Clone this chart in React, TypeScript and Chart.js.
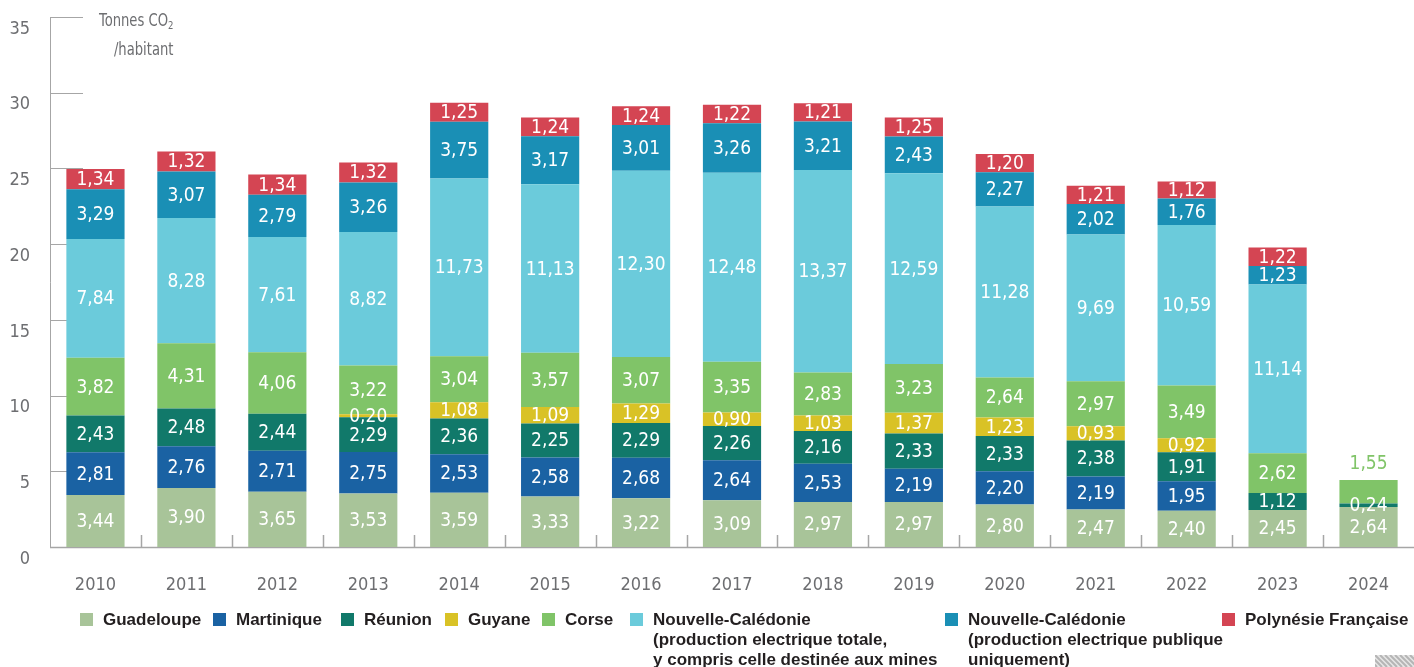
import React, { useEffect, useRef } from 'react';
import { Chart, registerables } from 'chart.js';

Chart.register(...registerables);

const years = ['2010', '2011', '2012', '2013', '2014', '2015', '2016', '2017', '2018', '2019', '2020', '2021', '2022', '2023', '2024'];
const guadeloupe = [3.44, 3.90, 3.65, 3.53, 3.59, 3.33, 3.22, 3.09, 2.97, 2.97, 2.80, 2.47, 2.40, 2.45, 2.64];
const martinique = [2.81, 2.76, 2.71, 2.75, 2.53, 2.58, 2.68, 2.64, 2.53, 2.19, 2.20, 2.19, 1.95, null, null];
const reunion = [2.43, 2.48, 2.44, 2.29, 2.36, 2.25, 2.29, 2.26, 2.16, 2.33, 2.33, 2.38, 1.91, 1.12, 0.24];
const guyane = [null, null, null, 0.20, 1.08, 1.09, 1.29, 0.90, 1.03, 1.37, 1.23, 0.93, 0.92, null, null];
const corse = [3.82, 4.31, 4.06, 3.22, 3.04, 3.57, 3.07, 3.35, 2.83, 3.23, 2.64, 2.97, 3.49, 2.62, 1.55];
const ncTotale = [7.84, 8.28, 7.61, 8.82, 11.73, 11.13, 12.30, 12.48, 13.37, 12.59, 11.28, 9.69, 10.59, 11.14, null];
const ncPublique = [3.29, 3.07, 2.79, 3.26, 3.75, 3.17, 3.01, 3.26, 3.21, 2.43, 2.27, 2.02, 1.76, 1.23, null];
const polynesie = [1.34, 1.32, 1.34, 1.32, 1.25, 1.24, 1.24, 1.22, 1.21, 1.25, 1.20, 1.21, 1.12, 1.22, null];

const seriesNames = ['Guadeloupe', 'Martinique', 'Réunion', 'Guyane', 'Corse', 'Nouvelle-Calédonie totale', 'Nouvelle-Calédonie publique', 'Polynésie Française'];
const seriesColors = ['#a8c499', '#1a62a3', '#11796a', '#d9c226', '#80c468', '#6bcbdb', '#1a8fb5', '#d44553'];
const legendLines = [
  ['Guadeloupe'],
  ['Martinique'],
  ['Réunion'],
  ['Guyane'],
  ['Corse'],
  ['Nouvelle-Calédonie', '(production electrique totale,', 'y compris celle destinée aux mines'],
  ['Nouvelle-Calédonie', '(production electrique publique', 'uniquement)'],
  ['Polynésie Française'],
];
const legendX = [80, 213, 341, 445, 542, 630, 945, 1222];

const yTicks = [0, 5, 10, 15, 20, 25, 30, 35];

const NARROW = '"Liberation Sans Narrow", "DejaVu Sans Condensed", "Arial Narrow", sans-serif';
const AXIS_GRAY = '#a6a6a6';
const TEXT_GRAY = '#6d6e71';

const fmt = (v: number) => v.toFixed(2).replace('.', ',');

const axisPlugin = {
  id: 'customAxes',
  beforeDatasetsDraw(chart: any) {
    const { ctx, chartArea } = chart;
    const x = chart.scales.x;
    const y = chart.scales.y;
    ctx.save();
    ctx.strokeStyle = AXIS_GRAY;
    ctx.lineWidth = 1;
    ctx.beginPath();
    ctx.moveTo(chartArea.left + 0.5, y.getPixelForValue(35));
    ctx.lineTo(chartArea.left + 0.5, chartArea.bottom + 0.5);
    yTicks.forEach((t) => {
      const py = Math.round(y.getPixelForValue(t)) + 0.5;
      ctx.moveTo(chartArea.left, py);
      ctx.lineTo(chartArea.left + 33, py);
    });
    ctx.stroke();
    ctx.lineWidth = 1.5;
    ctx.beginPath();
    ctx.moveTo(chartArea.left, chartArea.bottom + 0.5);
    ctx.lineTo(chartArea.right, chartArea.bottom + 0.5);
    for (let i = 1; i < years.length; i++) {
      const bx = Math.round((x.getPixelForTick(i - 1) + x.getPixelForTick(i)) / 2) + 0.5;
      ctx.moveTo(bx, chartArea.bottom);
      ctx.lineTo(bx, chartArea.bottom - 12);
    }
    ctx.stroke();
    ctx.restore();
  },
  afterDraw(chart: any) {
    const { ctx } = chart;
    ctx.save();
    ctx.beginPath();
    ctx.rect(1375, 655, 39, 12);
    ctx.clip();
    ctx.fillStyle = '#e6e6e6';
    ctx.fillRect(1375, 655, 39, 12);
    ctx.strokeStyle = '#b5b5b5';
    ctx.lineWidth = 2;
    for (let k = -20; k < 60; k += 5) {
      ctx.beginPath();
      ctx.moveTo(1375 + k, 655);
      ctx.lineTo(1375 + k + 12, 667);
      ctx.stroke();
    }
    ctx.restore();
  },
};

const labelPlugin = {
  id: 'valueLabels',
  afterDatasetsDraw(chart: any) {
    const { ctx } = chart;
    ctx.save();
    ctx.font = `19px ${NARROW}`;
    ctx.textAlign = 'center';
    ctx.textBaseline = 'middle';
    const n = chart.data.labels.length;
    for (let i = 0; i < n; i++) {
      let total = 0;
      let topDs = -1;
      chart.data.datasets.forEach((ds: any, di: number) => {
        const v = ds.data[i];
        if (v != null) {
          total += v;
          topDs = di;
        }
      });
      chart.data.datasets.forEach((ds: any, di: number) => {
        const v = ds.data[i];
        if (v == null) return;
        const el = chart.getDatasetMeta(di).data[i];
        const p = el.getProps(['x', 'y', 'base'], true);
        if (di === topDs && total < 5) {
          ctx.fillStyle = ds.backgroundColor;
          ctx.fillText(fmt(v), p.x, p.y - 16);
        } else {
          ctx.fillStyle = '#ffffff';
          ctx.fillText(fmt(v), p.x, (p.y + p.base) / 2 + 1);
        }
      });
    }
    ctx.restore();
  },
};

export default function App() {
  const canvasRef = useRef<HTMLCanvasElement | null>(null);

  useEffect(() => {
    document.body.style.margin = '0';
    const canvas = canvasRef.current;
    if (!canvas) return;
    const data = [guadeloupe, martinique, reunion, guyane, corse, ncTotale, ncPublique, polynesie];
    const chart = new Chart(canvas, {
      type: 'bar',
      data: {
        labels: years,
        datasets: data.map((d, i) => ({
          label: seriesNames[i],
          data: d as any,
          backgroundColor: seriesColors[i],
          borderWidth: 0,
          categoryPercentage: 1,
          barPercentage: 0.64,
        })),
      },
      options: {
        responsive: false,
        animation: false,
        layout: { padding: { top: 17, left: 0, right: 0, bottom: 0 } },
        plugins: {
          legend: { display: false },
          tooltip: { enabled: false },
        },
        scales: {
          x: {
            stacked: true,
            grid: { display: false, drawTicks: false },
            border: { display: false },
            ticks: {
              color: TEXT_GRAY,
              font: { family: NARROW, size: 18 },
              padding: 28,
            },
            afterFit: (s: any) => {
              s.height = 120;
              s.paddingLeft = 0;
              s.paddingRight = 0;
            },
          },
          y: {
            stacked: true,
            min: 0,
            max: 35,
            grid: { display: false, drawTicks: false },
            border: { display: false },
            ticks: {
              stepSize: 5,
              color: TEXT_GRAY,
              font: { family: NARROW, size: 18 },
              padding: 20,
              labelOffset: 12,
            },
            afterFit: (s: any) => {
              s.width = 50;
              s.paddingTop = 0;
              s.paddingBottom = 0;
            },
          },
        },
      },
      plugins: [axisPlugin, labelPlugin],
    });
    return () => chart.destroy();
  }, []);

  return (
    <div style={{ position: 'fixed', left: 0, top: 0, width: 1414, height: 667, background: '#fff', overflow: 'hidden' }}>
      <canvas ref={canvasRef} width={1414} height={667} style={{ position: 'absolute', left: 0, top: 0, width: 1414, height: 667 }} />
      <div style={{ position: 'absolute', right: 1414 - 173, top: 7, textAlign: 'right', font: `17px ${NARROW}`, color: TEXT_GRAY, lineHeight: '26px', whiteSpace: 'nowrap', transform: 'scaleX(0.86)', transformOrigin: 'right top' }}>
        <div>Tonnes CO<span style={{ fontSize: 11, position: 'relative', top: 3 }}>2</span></div>
        <div>/habitant</div>
      </div>
      {legendLines.map((lines, i) => (
        <div key={i} style={{ position: 'absolute', left: legendX[i], top: 610, display: 'flex', alignItems: 'flex-start' }}>
          <div style={{ width: 13, height: 13, marginTop: 3, background: seriesColors[i], flex: 'none' }} />
          <div style={{ marginLeft: 10, font: 'bold 17px "Liberation Sans", Arial, sans-serif', lineHeight: '20px', color: '#231f20', whiteSpace: 'nowrap' }}>
            {lines.map((l, j) => (
              <div key={j}>{l}</div>
            ))}
          </div>
        </div>
      ))}
    </div>
  );
}
